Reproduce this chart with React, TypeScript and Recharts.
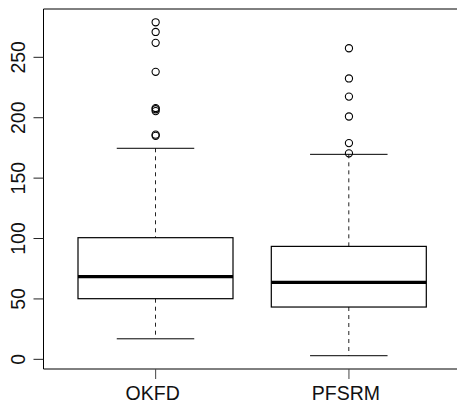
import React from 'react';
import { ComposedChart, Bar, Line, XAxis, YAxis, ReferenceLine } from 'recharts';

const categories = ['OKFD', 'PFSRM'];
const lowerWhisker = [17, 3];
const q1 = [50.2, 43.3];
const median = [68.4, 63.7];
const q3 = [100.7, 93.5];
const upperWhisker = [174.7, 169.7];
const okfdOutliers = [279, 271, 262, 238, 208, 207, 205.5, 186, 185];
const pfsrmOutliers = [257.5, 232.5, 217.5, 201, 179, 170.5];
const yTicks = [0, 50, 100, 150, 200, 250];

const outlierSets = [okfdOutliers, pfsrmOutliers];
const outlierKeys = Array.from({ length: okfdOutliers.length }, (_, i) => `o${i}`);

const data = categories.map((name, i) => {
  const row: any = {
    name,
    range: [lowerWhisker[i], upperWhisker[i]],
    lo: lowerWhisker[i],
    q1: q1[i],
    med: median[i],
    q3: q3[i],
    hi: upperWhisker[i],
  };
  outlierKeys.forEach((k, j) => {
    row[k] = outlierSets[i][j] ?? null;
  });
  return row;
});

const FONT = '"Liberation Sans", Arial, Helvetica, sans-serif';

const BoxShape = (props: any) => {
  const { x, y, width, height, payload } = props;
  const { lo, q1: b1, med, q3: b3, hi } = payload;
  const k = height / (hi - lo);
  const py = (v: number) => y + (hi - v) * k;
  const cx = x + width / 2;
  const capW = width / 4;
  return (
    <g>
      <line x1={cx} x2={cx} y1={py(hi)} y2={py(b3)} stroke="#222" strokeDasharray="4 4" />
      <line x1={cx} x2={cx} y1={py(b1)} y2={py(lo)} stroke="#222" strokeDasharray="4 4" />
      <line x1={cx - capW} x2={cx + capW} y1={py(hi)} y2={py(hi)} stroke="#000" />
      <line x1={cx - capW} x2={cx + capW} y1={py(lo)} y2={py(lo)} stroke="#000" />
      <rect x={x} y={py(b3)} width={width} height={py(b1) - py(b3)} fill="none" stroke="#000" strokeWidth={1.2} />
      <line x1={x} x2={x + width} y1={py(med)} y2={py(med)} stroke="#000" strokeWidth={3.2} />
    </g>
  );
};

const YTick = ({ x, y, payload }: any) => (
  <text
    x={x}
    y={y}
    transform={`rotate(-90, ${x}, ${y})`}
    textAnchor="middle"
    fontSize={19.5}
    fontFamily={FONT}
    fill="#111"
  >
    {payload.value}
  </text>
);

export default function App() {
  return (
    <div style={{ position: 'absolute', left: 0, top: 0, width: 457, height: 405, overflow: 'hidden', background: '#fff' }}>
      <ComposedChart width={470} height={405} data={data} margin={{ top: 9, right: 9, left: 0, bottom: 0 }}>
        <XAxis
          dataKey="name"
          type="category"
          height={36}
          padding={{ left: 15.5, right: 15.4 }}
          tickSize={10}
          tickMargin={7}
          axisLine={{ stroke: '#000' }}
          tickLine={{ stroke: '#444' }}
          tick={{ fill: '#111', fontSize: 19.5, fontFamily: FONT, dx: -3 }}
        />
        <YAxis
          type="number"
          domain={[-8, 290]}
          ticks={yTicks}
          width={43.5}
          tickSize={10}
          tickMargin={8}
          axisLine={{ stroke: '#000' }}
          tickLine={{ stroke: '#222' }}
          tick={<YTick />}
        />
        <ReferenceLine y={290} stroke="#000" />
        <Bar dataKey="range" barSize={155} shape={<BoxShape />} isAnimationActive={false} />
        {outlierKeys.map((k) => (
          <Line
            key={k}
            dataKey={k}
            stroke="none"
            dot={{ r: 3.6, fill: 'none', stroke: '#000', strokeWidth: 1.1 }}
            activeDot={false}
            isAnimationActive={false}
          />
        ))}
      </ComposedChart>
    </div>
  );
}
